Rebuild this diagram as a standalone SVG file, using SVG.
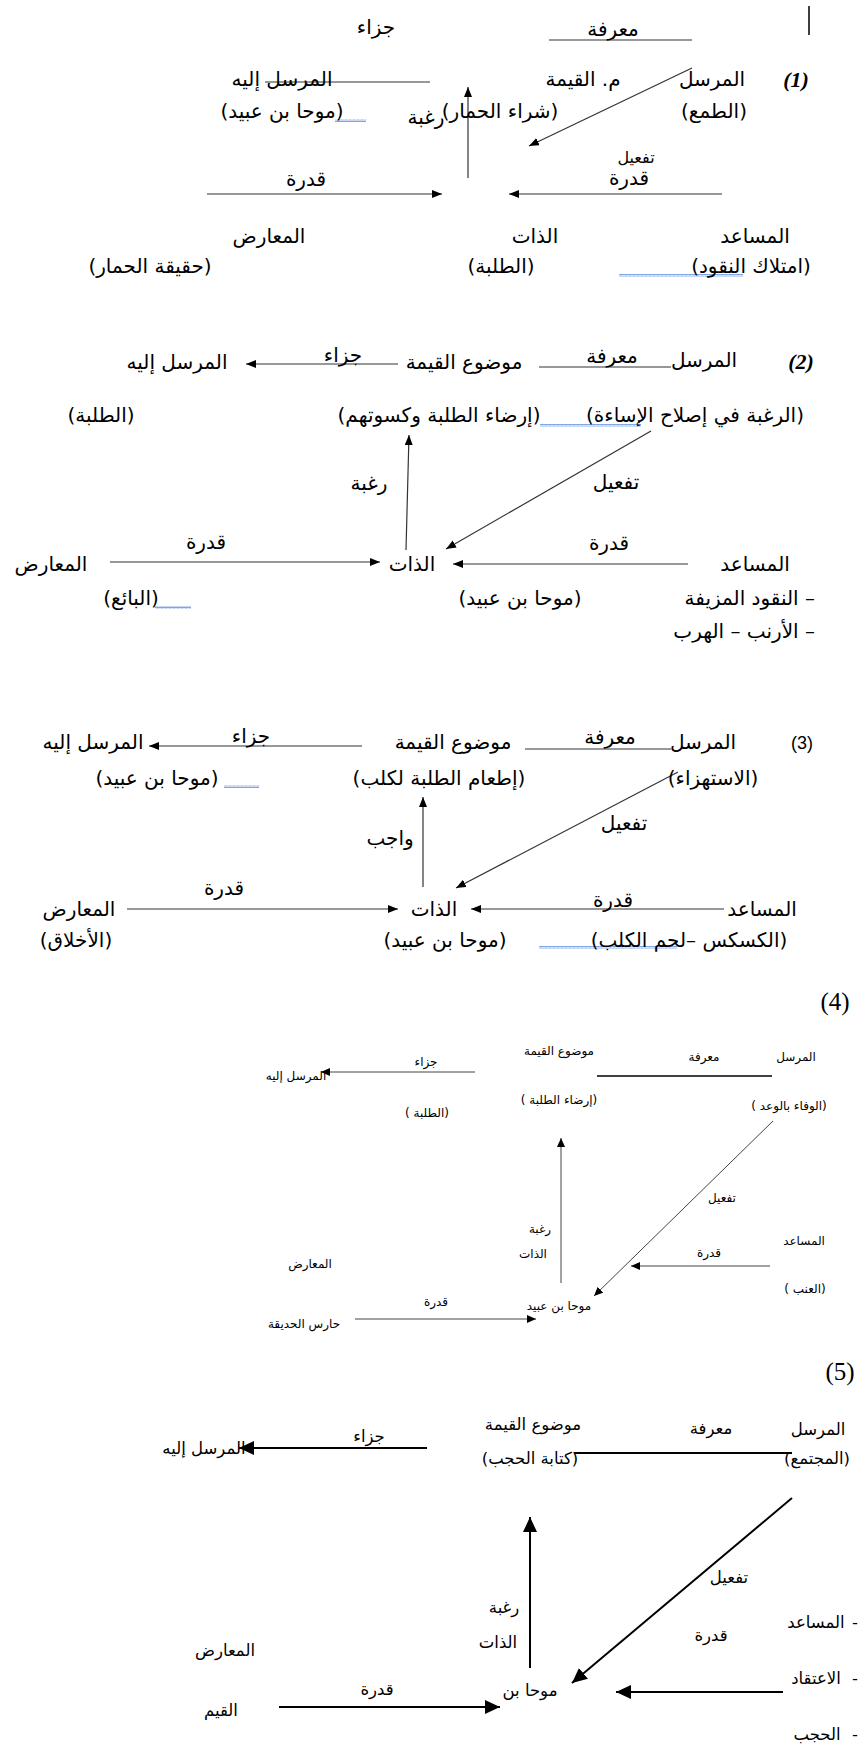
<svg xmlns="http://www.w3.org/2000/svg" width="861" height="1747" viewBox="0 0 861 1747">
<defs>
<style>
text{font-family:"DejaVu Sans",sans-serif;fill:#000;text-anchor:middle;direction:rtl;unicode-bidi:embed}
.a{font-size:20px}
.s{font-size:16px}
.n4{font-size:12px}
.n5{font-size:16.5px}
.num{font-family:"Liberation Serif",serif;direction:ltr;font-style:italic;font-weight:bold;font-size:22px}
.num3{font-family:"Liberation Sans",sans-serif;direction:ltr;font-size:18px}
.numL{font-family:"Liberation Serif",serif;direction:ltr;font-size:25px}
.ln{stroke:#333;stroke-width:1.2;fill:none}
.ln4{stroke:#444;stroke-width:1;fill:none}
.ln5{stroke:#000;stroke-width:2;fill:none}
.r{text-anchor:start}
</style>
<marker id="ah" markerUnits="userSpaceOnUse" markerWidth="11" markerHeight="9" refX="10" refY="4" orient="auto"><path d="M0,0 L10,4 L0,8 z" fill="#000"/></marker>
<marker id="ah4" markerUnits="userSpaceOnUse" markerWidth="10" markerHeight="9" refX="9" refY="4" orient="auto"><path d="M0,0 L9,4 L0,8 z" fill="#000"/></marker>
<marker id="ah5" markerUnits="userSpaceOnUse" markerWidth="16" markerHeight="14" refX="15" refY="7" orient="auto"><path d="M0,0 L15,7 L0,14 z" fill="#000"/></marker>
<pattern id="wavy" patternUnits="userSpaceOnUse" width="4" height="3"><path d="M0,2.5 L1,0.5 L2,2.5 L3,0.5 L4,2.5" stroke="#4a7fd8" stroke-width="0.7" fill="none"/></pattern>
</defs>
<rect width="861" height="1747" fill="#fff"/>

<g id="connectors">
<!-- section 1 -->
<line class="ln" x1="809" y1="6" x2="809" y2="35" style="stroke:#000;stroke-width:1.5"/>
<line class="ln" x1="549" y1="40" x2="692" y2="40"/>
<line class="ln" x1="265" y1="82" x2="430" y2="82"/>
<line class="ln" x1="468" y1="178" x2="468" y2="87" marker-end="url(#ah)"/>
<line class="ln" x1="692" y1="68" x2="529" y2="146" marker-end="url(#ah)"/>
<line class="ln" x1="207" y1="194" x2="442" y2="194" marker-end="url(#ah)"/>
<line class="ln" x1="722" y1="194" x2="509" y2="194" marker-end="url(#ah)"/>
<!-- section 2 -->
<line class="ln" x1="539" y1="367" x2="671" y2="367"/>
<line class="ln" x1="398" y1="364" x2="246" y2="364" marker-end="url(#ah)"/>
<line class="ln" x1="406" y1="550" x2="409" y2="435" marker-end="url(#ah)"/>
<line class="ln" x1="651" y1="431" x2="446" y2="549" marker-end="url(#ah)"/>
<line class="ln" x1="110" y1="562" x2="380" y2="562" marker-end="url(#ah)"/>
<line class="ln" x1="688" y1="564" x2="453" y2="564" marker-end="url(#ah)"/>
<!-- section 3 -->
<line class="ln" x1="525" y1="749" x2="671" y2="749"/>
<line class="ln" x1="362" y1="746" x2="149" y2="746" marker-end="url(#ah)"/>
<line class="ln" x1="423" y1="887" x2="423" y2="797" marker-end="url(#ah)"/>
<line class="ln" x1="678" y1="772" x2="456" y2="888" marker-end="url(#ah)"/>
<line class="ln" x1="127" y1="909" x2="398" y2="909" marker-end="url(#ah)"/>
<line class="ln" x1="724" y1="909" x2="471" y2="909" marker-end="url(#ah)"/>
<!-- section 4 -->
<line class="ln4" x1="597" y1="1076" x2="772" y2="1076" style="stroke:#000;stroke-width:1.3"/>
<line class="ln4" x1="475" y1="1072" x2="321" y2="1072" marker-end="url(#ah4)"/>
<line class="ln4" x1="561" y1="1283" x2="561" y2="1138" marker-end="url(#ah4)"/>
<line class="ln4" x1="773" y1="1121" x2="594" y2="1296" marker-end="url(#ah4)"/>
<line class="ln4" x1="770" y1="1266" x2="631" y2="1266" marker-end="url(#ah4)"/>
<line class="ln4" x1="355" y1="1319" x2="536" y2="1319" marker-end="url(#ah4)"/>
<!-- section 5 -->
<line class="ln5" x1="574" y1="1453" x2="792" y2="1453"/>
<line class="ln5" x1="427" y1="1448" x2="239" y2="1448" marker-end="url(#ah5)"/>
<line class="ln5" x1="530" y1="1668" x2="530" y2="1517" marker-end="url(#ah5)"/>
<line class="ln5" x1="792" y1="1498" x2="572" y2="1683" marker-end="url(#ah5)"/>
<line class="ln5" x1="783" y1="1692" x2="616" y2="1692" marker-end="url(#ah5)"/>
<line class="ln5" x1="279" y1="1707" x2="500" y2="1707" marker-end="url(#ah5)"/>
</g>

<g id="spellmarks">
<rect x="335" y="119" width="31" height="3" fill="url(#wavy)"/>
<rect x="619" y="274" width="124" height="3" fill="url(#wavy)"/>
<rect x="540" y="424" width="101" height="3" fill="url(#wavy)"/>
<rect x="155" y="606" width="36" height="3" fill="url(#wavy)"/>
<rect x="224" y="785" width="35" height="3" fill="url(#wavy)"/>
<rect x="539" y="946" width="138" height="3" fill="url(#wavy)"/>
</g>

<g id="section1">
<g id="s1-jazaa"><text class="a" x="376" y="34">جزاء</text></g>
<g id="s1-maarifa"><text class="a" x="613" y="36">معرفة</text></g>
<g id="s1-num"><text class="num" x="796" y="87">(1)</text></g>
<g id="s1-sender"><text class="a" x="712" y="86">المرسل</text><text class="a" x="714" y="118">(الطمع)</text></g>
<g id="s1-object"><text class="a" x="583" y="86">م. القيمة</text><text class="a" x="500" y="118">(شراء الحمار)</text></g>
<g id="s1-receiver"><text class="a" x="282" y="86">المرسل إليه</text><text class="a" x="282" y="118">(موحا بن عبيد)</text></g>
<g id="s1-desire"><text class="a" x="426" y="124">رغبة</text></g>
<g id="s1-activate"><text class="s" x="636" y="163">تفعيل</text></g>
<g id="s1-power-r"><text class="a" x="629" y="185">قدرة</text></g>
<g id="s1-power-l"><text class="a" x="306" y="186">قدرة</text></g>
<g id="s1-opponent"><text class="a" x="269" y="243">المعارض</text><text class="a" x="150" y="273">(حقيقة الحمار)</text></g>
<g id="s1-subject"><text class="a" x="535" y="243">الذات</text><text class="a" x="501" y="273">(الطلبة)</text></g>
<g id="s1-helper"><text class="a" x="755" y="243">المساعد</text><text class="a" x="751" y="273">(امتلاك النقود)</text></g>
</g>

<g id="section2">
<g id="s2-num"><text class="num" x="801" y="369">(2)</text></g>
<g id="s2-sender"><text class="a" x="704" y="367">المرسل</text><text class="a" x="695" y="422">(الرغبة في إصلاح الإساءة)</text></g>
<g id="s2-maarifa"><text class="a" x="612" y="363">معرفة</text></g>
<g id="s2-object"><text class="a" x="464" y="369">موضوع القيمة</text><text class="a" x="439" y="422">(إرضاء الطلبة وكسوتهم)</text></g>
<g id="s2-jazaa"><text class="a" x="343" y="362">جزاء</text></g>
<g id="s2-receiver"><text class="a" x="177" y="369">المرسل إليه</text><text class="a" x="101" y="422">(الطلبة)</text></g>
<g id="s2-desire"><text class="a" x="369" y="490">رغبة</text></g>
<g id="s2-activate"><text class="a" x="616" y="489">تفعيل</text></g>
<g id="s2-power-l"><text class="a" x="206" y="549">قدرة</text></g>
<g id="s2-power-r"><text class="a" x="609" y="550">قدرة</text></g>
<g id="s2-opponent"><text class="a" x="51" y="571">المعارض</text><text class="a" x="131" y="605">(البائع)</text></g>
<g id="s2-subject"><text class="a" x="412" y="571">الذات</text><text class="a" x="520" y="605">(موحا بن عبيد)</text></g>
<g id="s2-helper"><text class="a" x="755" y="571">المساعد</text><text class="a r" x="815" y="605">– النقود المزيفة</text><text class="a r" x="815" y="638">– الأرنب – الهرب</text></g>
</g>

<g id="section3">
<g id="s3-num"><text class="num3" x="802" y="749">(3)</text></g>
<g id="s3-sender"><text class="a" x="703" y="749">المرسل</text><text class="a" x="713" y="785">(الاستهزاء)</text></g>
<g id="s3-maarifa"><text class="a" x="610" y="744">معرفة</text></g>
<g id="s3-object"><text class="a" x="453" y="749">موضوع القيمة</text><text class="a" x="439" y="785">(إطعام الطلبة لكلب)</text></g>
<g id="s3-jazaa"><text class="a" x="251" y="743">جزاء</text></g>
<g id="s3-receiver"><text class="a" x="93" y="749">المرسل إليه</text><text class="a" x="157" y="785">(موحا بن عبيد)</text></g>
<g id="s3-duty"><text class="a" x="390" y="845">واجب</text></g>
<g id="s3-activate"><text class="a" x="624" y="830">تفعيل</text></g>
<g id="s3-power-l"><text class="a" x="224" y="895">قدرة</text></g>
<g id="s3-power-r"><text class="a" x="613" y="907">قدرة</text></g>
<g id="s3-opponent"><text class="a" x="79" y="916">المعارض</text><text class="a" x="76" y="947">(الأخلاق)</text></g>
<g id="s3-subject"><text class="a" x="434" y="916">الذات</text><text class="a" x="445" y="947">(موحا بن عبيد)</text></g>
<g id="s3-helper"><text class="a" x="762" y="916">المساعد</text><text class="a" x="689" y="947">(الكسكس –لحم الكلب)</text></g>
</g>

<g id="section4">
<g id="s4-num"><text class="numL" x="835" y="1010">(4)</text></g>
<g id="s4-sender"><text class="n4" x="796" y="1061">المرسل</text><text class="n4" x="789" y="1110">(الوفاء بالوعد )</text></g>
<g id="s4-maarifa"><text class="n4" x="704" y="1061">معرفة</text></g>
<g id="s4-object"><text class="n4" x="559" y="1055">موضوع القيمة</text><text class="n4" x="559" y="1104">(إرضاء الطلبة )</text></g>
<g id="s4-jazaa"><text class="n4" x="426" y="1066">جزاء</text></g>
<g id="s4-receiver"><text class="n4" x="296" y="1080">المرسل إليه</text><text class="n4" x="427" y="1117">(الطلبة )</text></g>
<g id="s4-activate"><text class="n4" x="722" y="1202">تفعيل</text></g>
<g id="s4-desire"><text class="n4" x="540" y="1233">رغبة</text><text class="n4" x="533" y="1258">الذات</text></g>
<g id="s4-helper"><text class="n4" x="804" y="1245">المساعد</text><text class="n4" x="805" y="1293">(العنب )</text></g>
<g id="s4-power-r"><text class="n4" x="709" y="1257">قدرة</text></g>
<g id="s4-opponent"><text class="n4" x="310" y="1268">المعارض</text><text class="n4" x="304" y="1328">حارس الحديقة</text></g>
<g id="s4-power-l"><text class="n4" x="436" y="1306">قدرة</text></g>
<g id="s4-subject"><text class="n4" x="559" y="1310">موحا بن عبيد</text></g>
</g>

<g id="section5">
<g id="s5-num"><text class="numL" x="840" y="1380">(5)</text></g>
<g id="s5-sender"><text class="n5" x="818" y="1435">المرسل</text><text class="n5" x="817" y="1464">(المجتمع)</text></g>
<g id="s5-maarifa"><text class="n5" x="711" y="1434">معرفة</text></g>
<g id="s5-object"><text class="n5" x="533" y="1430">موضوع القيمة</text><text class="n5" x="530" y="1464">(كتابة الحجب)</text></g>
<g id="s5-jazaa"><text class="n5" x="369" y="1442">جزاء</text></g>
<g id="s5-receiver"><text class="n5" x="204" y="1454">المرسل إليه</text></g>
<g id="s5-activate"><text class="n5" x="729" y="1583">تفعيل</text></g>
<g id="s5-desire"><text class="n5" x="504" y="1613">رغبة</text><text class="n5" x="498" y="1648">الذات</text></g>
<g id="s5-helper"><text class="n5" x="855" y="1628">-</text><text class="n5" x="816" y="1628">المساعد</text><text class="n5" x="855" y="1684">-</text><text class="n5" x="816" y="1684">الاعتقاد</text><text class="n5" x="855" y="1740">-</text><text class="n5" x="817" y="1740">الحجب</text></g>
<g id="s5-power-r"><text class="n5" x="711" y="1641">قدرة</text></g>
<g id="s5-opponent"><text class="n5" x="225" y="1656">المعارض</text><text class="n5" x="221" y="1716">القيم</text></g>
<g id="s5-power-l"><text class="n5" x="377" y="1695">قدرة</text></g>
<g id="s5-subject"><text class="n5" x="530" y="1696">موحا بن</text></g>
</g>
</svg>
